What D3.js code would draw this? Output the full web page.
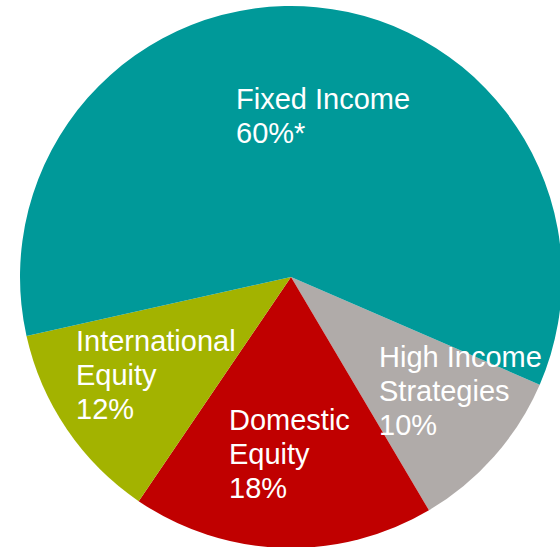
<!DOCTYPE html>
<html>
<head>
<meta charset="utf-8">
<script src="https://cdn.jsdelivr.net/npm/d3@7"></script>
<style>
  html, body { margin: 0; padding: 0; background: #ffffff; overflow: hidden; }
  svg { display: block; }
  .lbl { font-family: "Liberation Sans", Arial, sans-serif; font-size: 29px; fill: #ffffff; }
</style>
</head>
<body>
<div id="chart"></div>
<script>
// slice data, in drawing order (clockwise from the start angle)
const categories = ["High Income Strategies", "Domestic Equity", "International Equity", "Fixed Income"];
const shares = [10, 18, 12, 60];
const labelLines = [
    ["High Income", "Strategies", "10%"],
    ["Domestic", "Equity", "18%"],
    ["International", "Equity", "12%"],
    ["Fixed Income", "60%*"]
];
const sliceColors = ["#b0aba9", "#c00000", "#a3b300", "#009999"];

const width = 560, height = 547;
const cx = 291, cy = 277, radius = 271;
const startDeg = 113.4;
const lineGap = 34;
// top-left text anchor (first baseline) for each label
const labelPos = [[379, 367], [229, 430], [76, 351], [236, 109]];

const svg = d3.select("#chart").append("svg")
    .attr("width", width)
    .attr("height", height);

const pie = d3.pie()
    .sort(null)
    .value((d, i) => shares[i])
    .startAngle(startDeg * Math.PI / 180)
    .endAngle(startDeg * Math.PI / 180 + 2 * Math.PI);

const arc = d3.arc().innerRadius(0).outerRadius(radius);

const g = svg.append("g")
    .attr("transform", "translate(" + cx + "," + cy + ")");

g.selectAll("path")
    .data(pie(categories))
    .enter().append("path")
    .attr("d", arc)
    .attr("fill", (d, i) => sliceColors[i]);

// labels
const labels = svg.selectAll("text.lbl")
    .data(labelLines)
    .enter().append("text")
    .attr("class", "lbl")
    .attr("x", (d, i) => labelPos[i][0])
    .attr("y", (d, i) => labelPos[i][1]);

labels.each(function (lines, i) {
    d3.select(this).selectAll("tspan")
        .data(lines)
        .enter().append("tspan")
        .attr("x", labelPos[i][0])
        .attr("y", (l, j) => labelPos[i][1] + j * lineGap)
        .text(l => l);
});
</script>
</body>
</html>
